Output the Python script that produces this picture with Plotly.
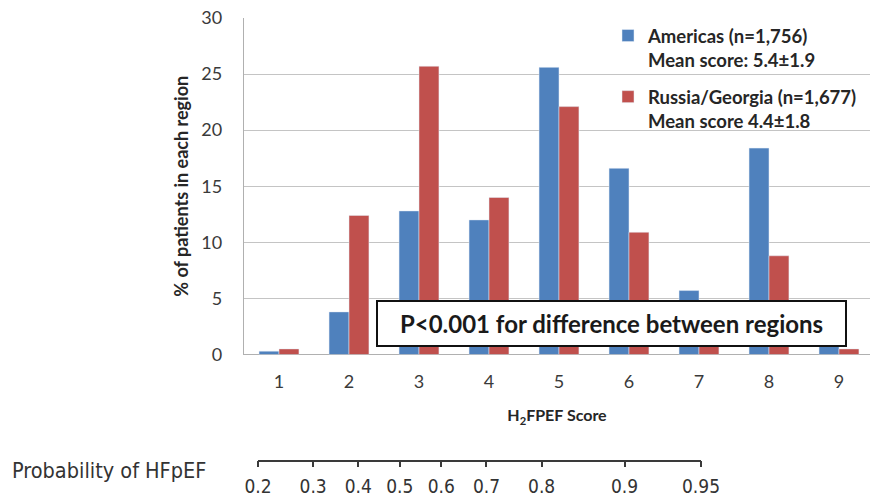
import numpy as np
import plotly.graph_objects as go

# ---- data ----
scores = [1, 2, 3, 4, 5, 6, 7, 8, 9]
score_labels = ["1", "2", "3", "4", "5", "6", "7", "8", "9"]
americas = [0.3, 3.8, 12.8, 12.0, 25.6, 16.6, 5.7, 18.4, 3.5]
russia_georgia = [0.5, 12.4, 25.7, 14.0, 22.1, 10.9, 4.4, 8.8, 0.5]
americas_name = "Americas (n=1,756)<br>Mean score: 5.4±1.9"
russia_name = "Russia/Georgia (n=1,677)<br>Mean score 4.4±1.8"
prob_ticks = [0.2, 0.3, 0.4, 0.5, 0.6, 0.7, 0.8, 0.9, 0.95]
prob_labels = ["0.2", "0.3", "0.4", "0.5", "0.6", "0.7", "0.8", "0.9", "0.95"]

W, H = 870, 502
BLUE = "#4f81bd"
RED = "#c0504d"
FONT = "Lato"
NARROW = "DejaVu Sans Condensed"


def logit(p):
    p = np.asarray(p, dtype=float)
    return np.log(p / (1 - p))


def px_x(x):
    return x / W


def px_y(y):
    return 1 - y / H


fig = go.Figure()
fig.add_trace(go.Bar(x=scores, y=americas, name=americas_name, marker_color=BLUE,
                     legendgroup="a", xaxis="x", yaxis="y"))
fig.add_trace(go.Bar(x=scores, y=russia_georgia, name=russia_name, marker_color=RED,
                     legendgroup="b", xaxis="x", yaxis="y"))

# invisible trace to carry the probability axis
prob_pos = logit(prob_ticks)
fig.add_trace(go.Scatter(x=prob_pos, y=[0] * len(prob_pos), mode="markers",
                         marker=dict(opacity=0), showlegend=False, hoverinfo="skip",
                         xaxis="x2", yaxis="y2"))

fig.update_layout(
    width=W, height=H,
    margin=dict(l=0, r=0, t=0, b=0),
    paper_bgcolor="white", plot_bgcolor="rgba(0,0,0,0)",
    barmode="group", bargap=0.43, bargroupgap=0,
    font=dict(family=FONT, color="#262626"),
    xaxis=dict(
        domain=[px_x(244), 1.0], range=[0.5, 9.443],
        tickmode="array", tickvals=scores, ticktext=score_labels,
        showgrid=False, zeroline=False, showline=False,
        ticks="", ticklabelstandoff=14,
        tickfont=dict(size=18, family=FONT, color="#3a3a3a"),
        title=dict(text="H<sub>2</sub>FPEF Score", standoff=19,
                   font=dict(size=16, family=FONT, weight="bold", color="#262626")),
        automargin=False, fixedrange=True,
    ),
    yaxis=dict(
        domain=[px_y(354.5), px_y(18)], range=[0, 30], dtick=5,
        showgrid=True, gridcolor="#c4c4c4", gridwidth=1.3,
        zeroline=True, zerolinecolor="#b0b0b0", zerolinewidth=1.3,
        showline=True, linecolor="#b0b0b0", linewidth=1.3,
        ticks="", ticklabelstandoff=17,
        tickfont=dict(size=18, family=FONT, color="#3a3a3a"),
        title=dict(text="% of patients in each region", standoff=8,
                   font=dict(size=18, family=FONT, weight="bold", color="#262626")),
        automargin=False, fixedrange=True,
    ),
    xaxis2=dict(
        domain=[px_x(258), px_x(701)],
        range=[float(logit(0.2)), float(logit(0.95))],
        anchor="y2", side="bottom",
        tickmode="array", tickvals=prob_pos.tolist(), ticktext=prob_labels,
        showline=True, linecolor="#3a3a3a", linewidth=1.6,
        ticks="outside", ticklen=6, tickwidth=1.6, tickcolor="#3a3a3a",
        showgrid=False, zeroline=False, ticklabelstandoff=3,
        tickfont=dict(size=19, family=NARROW, color="#333333"),
        automargin=False, fixedrange=True,
    ),
    yaxis2=dict(
        domain=[px_y(459.5), px_y(457.5)], range=[0, 1], visible=False,
        anchor="x2", fixedrange=True,
    ),
    legend=dict(
        x=px_x(608), y=px_y(17), xanchor="left", yanchor="top",
        bgcolor="rgba(0,0,0,0)", valign="top", tracegroupgap=10,
        font=dict(size=18.5, family=FONT, weight="bold", color="#262626"),
        itemwidth=30,
    ),
    showlegend=True,
    annotations=[
        dict(x=px_x(611.5), y=px_y(323.5), xref="paper", yref="paper",
             text="P<0.001 for difference between regions", showarrow=False,
             font=dict(size=24, family=FONT, weight="bold", color="#1a1a1a"),
             bgcolor="white", bordercolor="#111111", borderwidth=2, borderpad=0,
             width=467, height=43, xanchor="center", yanchor="middle"),
        dict(x=px_x(10), y=px_y(470), xref="paper", yref="paper",
             text="Probability of HFpEF", showarrow=False, xanchor="left", yanchor="middle",
             font=dict(size=21.5, family=NARROW, color="#333333")),
    ],
)

fig.write_html("out.html", config={"displayModeBar": False},
               post_script="document.body.style.margin='0';")
